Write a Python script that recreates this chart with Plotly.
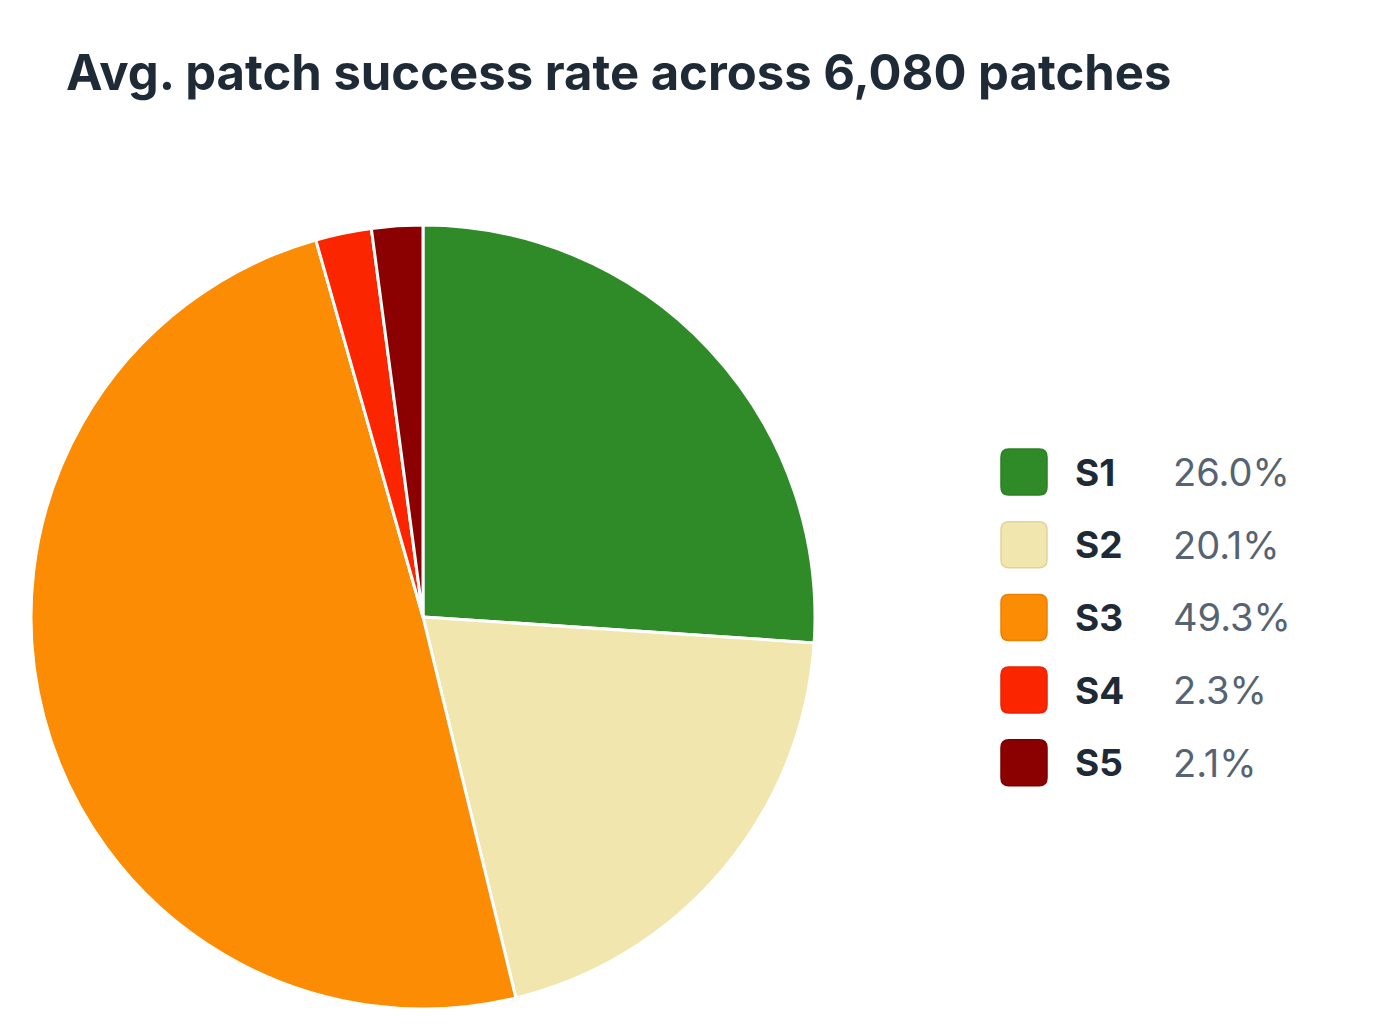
import plotly.graph_objects as go

labels = ["S1", "S2", "S3", "S4", "S5"]
shares = [26.0, 20.1, 49.3, 2.3, 2.1]
colors = ["#2e8b28", "#f1e6ad", "#fb8c04", "#fb2600", "#8b0000"]
borders = ["#2a8024", "#e2d398", "#e88000", "#e82300", "#7d0000"]
title = "Avg. patch success rate across 6,080 patches"

W, H = 1380, 1030
OFF = 8  # page body margin

fig = go.Figure(
    go.Pie(
        labels=labels,
        values=shares,
        sort=False,
        direction="clockwise",
        rotation=0,
        marker=dict(colors=colors, line=dict(color="white", width=3)),
        textinfo="none",
        hoverinfo="label+percent",
        domain=dict(
            x=[(31 - OFF) / W, (815 - OFF) / W],
            y=[1 - (1009 - OFF) / H, 1 - (225 - OFF) / H],
        ),
        showlegend=False,
    )
)


def px(x):
    return (x - OFF) / W


def py(y):
    return 1 - (y - OFF) / H


def rounded_box(x0, y0, x1, y1, r):
    return (
        f"M {px(x0 + r)} {py(y0)} L {px(x1 - r)} {py(y0)} "
        f"Q {px(x1)} {py(y0)} {px(x1)} {py(y0 + r)} "
        f"L {px(x1)} {py(y1 - r)} Q {px(x1)} {py(y1)} {px(x1 - r)} {py(y1)} "
        f"L {px(x0 + r)} {py(y1)} Q {px(x0)} {py(y1)} {px(x0)} {py(y1 - r)} "
        f"L {px(x0)} {py(y0 + r)} Q {px(x0)} {py(y0)} {px(x0 + r)} {py(y0)} Z"
    )


shapes = []
annotations = []
row_y = 472
step = 72.7
for i, (lab, val) in enumerate(zip(labels, shares)):
    yc = row_y + i * step
    shapes.append(
        dict(
            type="path",
            xref="paper",
            yref="paper",
            path=rounded_box(1001, yc - 23, 1047, yc + 23, 8),
            fillcolor=colors[i],
            line=dict(color=borders[i], width=1.5),
        )
    )
    annotations.append(
        dict(
            x=px(1073), y=py(yc), xref="paper", yref="paper",
            text=f"<b>{lab}</b>", showarrow=False, xanchor="left", yanchor="middle",
            font=dict(family="Inter", size=37, color="#1f2a37"),
        )
    )
    annotations.append(
        dict(
            x=px(1171), y=py(yc), xref="paper", yref="paper",
            text=f"{val:.1f}%", showarrow=False, xanchor="left", yanchor="middle",
            font=dict(family="Inter", size=38, color="#566372"),
        )
    )

annotations.append(
    dict(
        x=px(64), y=py(72), xref="paper", yref="paper",
        text=f"<b>{title}</b>", showarrow=False, xanchor="left", yanchor="middle",
        font=dict(family="Inter", size=49, color="#1f2a37"),
    )
)

fig.update_layout(
    width=W,
    height=H,
    margin=dict(l=0, r=0, t=0, b=0),
    paper_bgcolor="white",
    plot_bgcolor="white",
    shapes=shapes,
    annotations=annotations,
)

fig.write_html("out.html")
